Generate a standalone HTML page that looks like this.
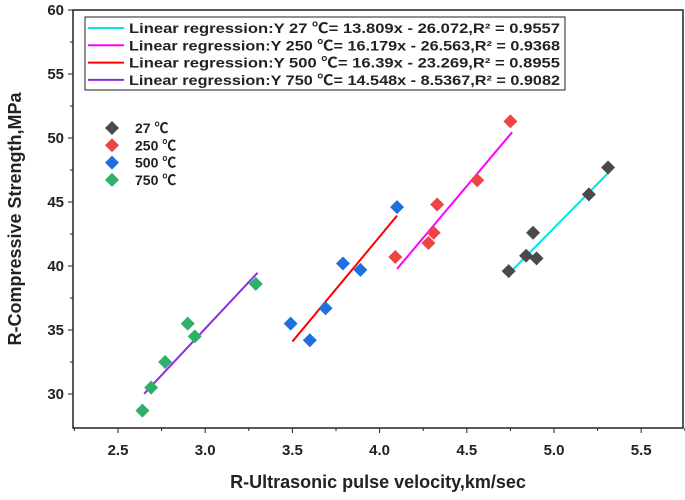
<!DOCTYPE html>
<html><head><meta charset="utf-8"><style>
body{margin:0;background:#fff;}
svg text{font-family:"Liberation Sans","Noto Sans CJK SC",sans-serif;font-weight:bold;}
</style></head><body>
<svg id="chart" width="685" height="495"></svg>
<script>
const xTicks=[2.5,3.0,3.5,4.0,4.5,5.0,5.5];
const yTicks=[30,35,40,45,50,55,60];
const s27x=[4.74,4.84,4.88,4.90,5.20,5.31];
const s27y=[39.6,40.8,42.6,40.6,45.6,47.7];
const s250x=[4.09,4.28,4.31,4.33,4.56,4.75];
const s250y=[40.7,41.8,42.6,44.8,46.7,51.3];
const s500x=[3.49,3.60,3.69,3.79,3.89,4.10];
const s500y=[35.5,34.2,36.7,40.2,39.7,44.6];
const s750x=[2.64,2.69,2.77,2.90,2.94,3.29];
const s750y=[28.7,30.5,32.5,35.5,34.5,38.6];
const regNames=["27","250","500","750"];
const regSlope=[13.809,16.179,16.39,14.548];
const regIntercept=[-26.072,-26.563,-23.269,-8.5367];
const regR2=["0.9557","0.9368","0.8955","0.9082"];
const regXmin=[4.75,4.10,3.50,2.65];
const regXmax=[5.32,4.76,4.10,3.30];
const NS="http://www.w3.org/2000/svg";
const svg=document.getElementById('chart');
const L=73,R=683,T=10,B=428;
const x=v=>118+(v-2.5)*174.4;
const y=v=>394-(v-30)*12.8;
function mk(t,a,p){const e=document.createElementNS(NS,t);for(const k in a)e.setAttribute(k,a[k]);(p||svg).appendChild(e);return e;}
let fr=mk('rect',{x:L,y:T,width:R-L,height:B-T,fill:'none',stroke:'#222','stroke-width':1.5});


xTicks.forEach(v=>{
 let t=mk('line',{x1:x(v),x2:x(v),y1:B,y2:B+5,stroke:'#222'});
 
 
 let m=mk('line',{x1:x(v+0.25),x2:x(v+0.25),y1:B,y2:B+3,stroke:'#222'});
 
 
 let l=mk('text',{x:x(v),y:B+27,'text-anchor':'middle','font-size':15,fill:'#222'});l.textContent=v.toFixed(1);
 
 
});
let m0=mk('line',{x1:x(2.25),x2:x(2.25),y1:B,y2:B+3,stroke:'#222'});


yTicks.forEach(v=>{
 let t=mk('line',{x1:L-5,x2:L,y1:y(v),y2:y(v),stroke:'#222'});
 
 
 if(v<60){let m=mk('line',{x1:L-3,x2:L,y1:y(v+2.5),y2:y(v+2.5),stroke:'#222'});
 
 }
 let l=mk('text',{x:L-9,y:y(v)+5,'text-anchor':'end','font-size':15,fill:'#222'});l.textContent=v;
 
 
});
let xt=mk('text',{x:378,y:488,'text-anchor':'middle','font-size':18,fill:'#222'});xt.textContent='R-Ultrasonic pulse velocity,km/sec';


let yt=mk('text',{x:21,y:219,'text-anchor':'middle','font-size':18,fill:'#222',transform:'rotate(-90 21 219)'});yt.textContent='R-Compressive Strength,MPa';


const lineCols=['#00e5e5','#ff00ff','#ff0000','#8a2be2'];
regNames.forEach((n,i)=>{
 let ln=mk('line',{x1:x(regXmin[i]),y1:y(regSlope[i]*regXmin[i]+regIntercept[i]),x2:x(regXmax[i]),y2:y(regSlope[i]*regXmax[i]+regIntercept[i]),stroke:lineCols[i],'stroke-width':2});
 
 
});
function dia(cx,cy,c,name){let p=mk('path',{d:`M${cx} ${cy-7}L${cx+7} ${cy}L${cx} ${cy+7}L${cx-7} ${cy}Z`,fill:c});
 
 }
const sets=[[s27x,s27y,'#4a4a4a','27'],[s250x,s250y,'#ee4444','250'],[s500x,s500y,'#1f6fe0','500'],[s750x,s750y,'#2fb06a','750']];
sets.forEach(s=>s[0].forEach((v,i)=>dia(x(v),y(s[1][i]),s[2],'point-'+s[3])));
let lb=mk('rect',{x:85,y:17,width:480,height:73,fill:'#fff',stroke:'#222','stroke-width':1});


regNames.forEach((n,i)=>{
 let yy=28+i*17.3;
 let s=mk('line',{x1:88,x2:124,y1:yy,y2:yy,stroke:lineCols[i],'stroke-width':2});
 
 
 let t=mk('text',{x:129,y:yy+5,'font-size':14,fill:'#222','textLength':431,'lengthAdjust':'spacingAndGlyphs'});
 t.textContent=`Linear regression:Y ${n} ℃= ${regSlope[i]}x - ${(-regIntercept[i])},R² = ${regR2[i]}`;
 
 
});
sets.forEach((s,i)=>{
 let yy=128+i*17.3;
 dia(112,yy,s[2],'legend-marker');
 let t=mk('text',{x:135,y:yy+5,'font-size':14,fill:'#222'});t.textContent=s[3]+' ℃';
 
 
});
</script>
</body></html>
